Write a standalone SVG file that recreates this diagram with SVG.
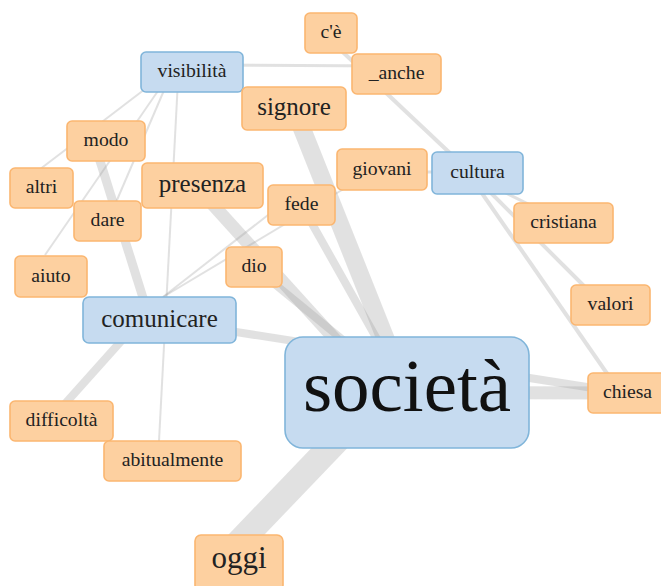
<svg xmlns="http://www.w3.org/2000/svg" width="661" height="586" viewBox="0 0 661 586">
  <style>
    .edge { stroke: #9a9a9a; stroke-opacity: 0.3; fill: none; stroke-linecap: butt; }
    .word rect { fill: #fdd0a0; stroke: #fbb670; stroke-width: 1.6; }
    .key rect { fill: #c6dbf0; stroke: #80b5da; stroke-width: 1.6; }
    text { font-family: "Liberation Serif", "Times New Roman", serif; fill: #222; text-anchor: middle; }
    .s { font-size: 19.7px; }
    .m { font-size: 25px; }
    .l { font-size: 31px; }
    .xl { font-size: 75px; fill: #111; }
  </style>
  <rect width="661" height="586" fill="#fff"/>

  <!-- connectors: width reflects the strength of each link -->
  <g id="edges">
    <line class="edge" x1="294" y1="108.5" x2="407" y2="392.5" stroke-width="18"/>
    <line class="edge" x1="225" y1="557" x2="385" y2="390" stroke-width="26"/>
    <line class="edge" x1="196" y1="186" x2="380" y2="389" stroke-width="13"/>
    <line class="edge" x1="254" y1="267" x2="407" y2="392.5" stroke-width="8"/>
    <line class="edge" x1="301.5" y1="205" x2="407" y2="392.5" stroke-width="8"/>
    <line class="edge" x1="159.5" y1="320" x2="625" y2="393" stroke-width="8"/>
    <line class="edge" x1="407" y1="392.5" x2="625" y2="393" stroke-width="13"/>
    <line class="edge" x1="95" y1="145" x2="150" y2="320" stroke-width="9"/>
    <line class="edge" x1="140" y1="320" x2="55" y2="415" stroke-width="8"/>
    <line class="edge" x1="178" y1="80" x2="158" y2="460" stroke-width="2"/>
    <line class="edge" x1="200" y1="65" x2="390" y2="66" stroke-width="3"/>
    <line class="edge" x1="170" y1="70" x2="35" y2="173" stroke-width="2"/>
    <line class="edge" x1="160" y1="88" x2="45" y2="255" stroke-width="2"/>
    <line class="edge" x1="165" y1="88" x2="108" y2="221" stroke-width="2"/>
    <line class="edge" x1="163" y1="297" x2="300" y2="190" stroke-width="2"/>
    <line class="edge" x1="163" y1="297" x2="382" y2="166" stroke-width="2"/>
    <line class="edge" x1="330" y1="40" x2="470" y2="172" stroke-width="4"/>
    <line class="edge" x1="400" y1="172" x2="460" y2="172" stroke-width="3"/>
    <line class="edge" x1="470" y1="176" x2="615" y2="385" stroke-width="4"/>
    <line class="edge" x1="480" y1="182" x2="600" y2="302" stroke-width="4"/>
    <line class="edge" x1="490" y1="185" x2="560" y2="220" stroke-width="3"/>
  </g>

  <!-- nodes -->
  <g id="n-ce" class="word"><rect x="305" y="13" width="52" height="40" rx="5"/><text class="s" x="331" y="38">c'è</text></g>
  <g id="n-anche" class="word"><rect x="352" y="54" width="89" height="40" rx="5"/><text class="s" x="396.5" y="79">_anche</text></g>
  <g id="n-visibilita" class="key"><rect x="141" y="52" width="102" height="40" rx="5"/><text class="s" x="192" y="77">visibilità</text></g>
  <g id="n-signore" class="word"><rect x="242" y="87" width="104" height="43" rx="5"/><text class="m" x="294" y="115">signore</text></g>
  <g id="n-modo" class="word"><rect x="67" y="121" width="78" height="40" rx="5"/><text class="s" x="106" y="146">modo</text></g>
  <g id="n-altri" class="word"><rect x="10" y="168" width="63" height="40" rx="5"/><text class="s" x="41.5" y="193">altri</text></g>
  <g id="n-presenza" class="word"><rect x="142" y="163" width="121" height="45" rx="5"/><text class="m" x="202.5" y="192">presenza</text></g>
  <g id="n-dare" class="word"><rect x="74" y="201" width="67" height="40" rx="5"/><text class="s" x="107.5" y="226">dare</text></g>
  <g id="n-fede" class="word"><rect x="268" y="185" width="67" height="40" rx="5"/><text class="s" x="301.5" y="210">fede</text></g>
  <g id="n-giovani" class="word"><rect x="337" y="149" width="90" height="41" rx="5"/><text class="s" x="382" y="174.5">giovani</text></g>
  <g id="n-cultura" class="key"><rect x="432" y="152" width="91" height="42" rx="5"/><text class="s" x="477.5" y="178">cultura</text></g>
  <g id="n-cristiana" class="word"><rect x="514" y="203" width="99" height="40" rx="5"/><text class="s" x="563.5" y="228">cristiana</text></g>
  <g id="n-aiuto" class="word"><rect x="15" y="256" width="72" height="41" rx="5"/><text class="s" x="51" y="281.5">aiuto</text></g>
  <g id="n-dio" class="word"><rect x="226" y="247" width="56" height="40" rx="5"/><text class="s" x="254" y="272">dio</text></g>
  <g id="n-comunicare" class="key"><rect x="83" y="297" width="153" height="46" rx="6"/><text class="m" x="159.5" y="326.5">comunicare</text></g>
  <g id="n-valori" class="word"><rect x="571" y="285" width="79" height="40" rx="5"/><text class="s" x="610.5" y="310">valori</text></g>
  <g id="n-societa" class="key"><rect x="285" y="337" width="244" height="111" rx="18"/><text class="xl" x="407" y="411">società</text></g>
  <g id="n-chiesa" class="word"><rect x="588" y="373" width="79" height="40" rx="5"/><text class="s" x="627.5" y="398">chiesa</text></g>
  <g id="n-difficolta" class="word"><rect x="10" y="401" width="103" height="40" rx="5"/><text class="s" x="61.5" y="426">difficoltà</text></g>
  <g id="n-abitualmente" class="word"><rect x="104" y="441" width="137" height="40" rx="5"/><text class="s" x="172.5" y="466">abitualmente</text></g>
  <g id="n-oggi" class="word"><rect x="195" y="535" width="88" height="56" rx="6"/><text class="l" x="239" y="568">oggi</text></g>
</svg>
